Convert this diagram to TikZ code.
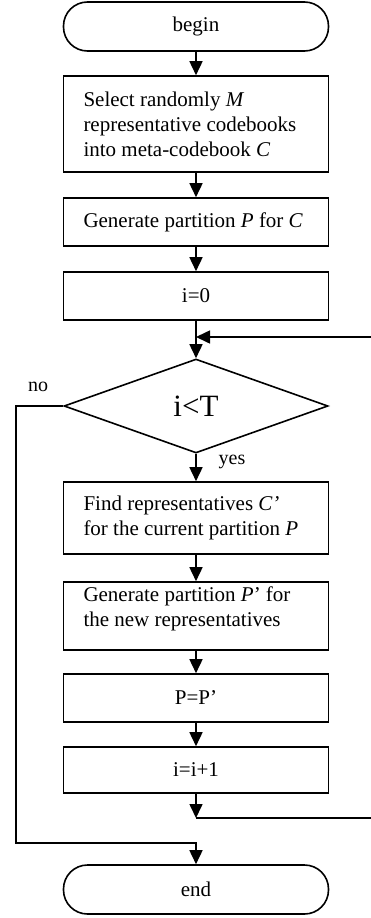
\documentclass[tikz,border=0pt]{standalone}
\usepackage{fontspec}
\setmainfont{Liberation Serif}
\usetikzlibrary{shapes.geometric,arrows.meta}
\begin{document}
\begin{tikzpicture}[x=1pt,y=-1pt,
  ln/.style={line width=1.6pt},
  arr/.style={ln,-{Triangle[length=14pt,width=13pt]}},
  box/.style={draw,line width=1.6pt,minimum width=265pt,text width=225pt,inner xsep=20pt,inner ysep=0pt,align=flush left,font=\fontsize{21}{25}\selectfont},
  cbox/.style={draw,line width=1.6pt,minimum width=265pt,inner sep=0pt,align=center,font=\fontsize{21}{25}\selectfont},
  term/.style={draw,line width=1.6pt,rounded corners=24pt,minimum width=265pt,minimum height=49pt,font=\fontsize{21}{25}\selectfont},
  dec/.style={draw,line width=1.6pt,shape=diamond,minimum width=264pt,minimum height=94pt,inner sep=0pt,font=\fontsize{31}{35}\selectfont},
  lbl/.style={font=\fontsize{20}{24}\selectfont,inner sep=0pt}]
\useasboundingbox (0,0) rectangle (371,918);
\node[term] (begin) at (196,26.5) {begin};
\node[box,minimum height=96pt] (b1) at (196,124) {\mbox{Select randomly \textit{M}}\\\mbox{representative codebooks}\\\mbox{into meta-codebook \textit{C}}};
\node[box,minimum height=48pt] (b2) at (196,222) {\mbox{Generate partition \textit{P} for \textit{C}}};
\node[cbox,minimum height=48pt] (b3) at (196,296) {i=0};
\node[dec] (dia) at (196,406) {i<T};
\node[box,minimum height=72pt] (b4) at (196,518) {\mbox{Find representatives \textit{C’}}\\\mbox{for the current partition \textit{P}}};
\node[cbox,minimum height=68pt] (b5) at (196,616) {};
\node[box,draw=none] (b5t) at (196,609) {\mbox{Generate partition \textit{P}’ for}\\\mbox{the new representatives}};
\node[cbox,minimum height=48pt] (b6) at (196,698) {P=P’};
\node[cbox,minimum height=46pt] (b7) at (196,770) {i=i+1};
\node[term] (endn) at (196,889.5) {end};
\node[lbl] (no) at (38,387) {no};
\node[lbl] (yes) at (232,462) {yes};
\coordinate (rt) at (371,337);
\coordinate (nl) at (16,843);
\coordinate (bl) at (196,818);
\coordinate (rb) at (371,818);
\draw[arr] (begin) -- (b1);
\draw[arr] (b1) -- (b2);
\draw[arr] (b2) -- (b3);
\draw[arr] (b3) -- (dia);
\draw[arr] (rt) -- (rt -| dia.north);
\draw[arr] (dia) -- (b4);
\draw[arr] (b4) -- (b5);
\draw[arr] (b5) -- (b6);
\draw[arr] (b6) -- (b7);
\draw[arr] (b7) -- (bl);
\draw[ln] (bl) -- (rb);
\draw[arr] (dia.west) -| (nl) -| (endn.north);
\end{tikzpicture}
\end{document}
